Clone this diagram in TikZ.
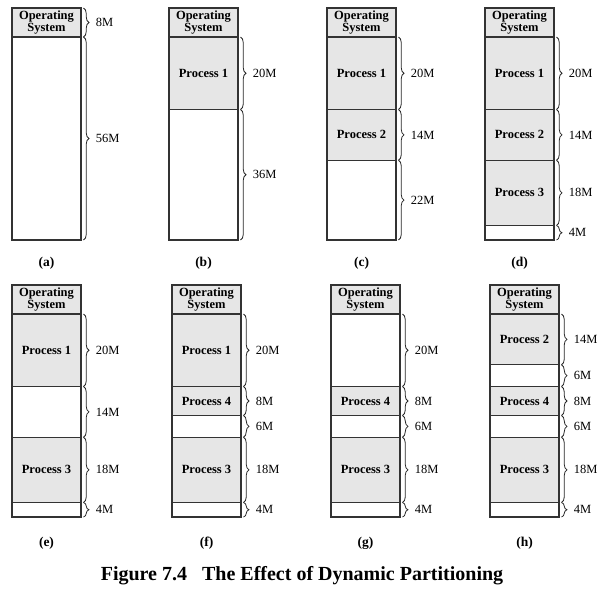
\documentclass[tikz,border=0pt]{standalone}
\usepackage{fontspec}
\setmainfont{Liberation Serif}
\usetikzlibrary{decorations.pathreplacing}
\definecolor{procgray}{HTML}{E6E6E6}
\definecolor{edgegray}{HTML}{333333}
\tikzset{
  blkbase/.style={draw=edgegray, line width=1.2pt, minimum width=69pt, inner sep=0pt, outer sep=0pt, anchor=north west,
    font=\bfseries\fontsize{12.5}{11.5}\selectfont, align=center},
  osbox/.style={blkbase, fill=procgray},
  procbox/.style={blkbase, fill=procgray},
  freebox/.style={blkbase, fill=white},
  brc/.style={decorate, decoration={brace, amplitude=5.5pt}, line width=0.8pt, draw=black!85},
  sizelbl/.style={font=\fontsize{12.5}{13}\selectfont, anchor=west, inner sep=0pt},
  sublbl/.style={font=\bfseries\fontsize{13.5}{14}\selectfont},
  captionlbl/.style={font=\bfseries\fontsize{20}{22}\selectfont}
}
\newcommand\blk[7]{\node[#6, minimum height={#5*3.625pt}] (#1) at (#2,{#3+#4*3.625}) {#7};}
\newcommand\brlbl[2]{\draw[brc] ([xshift=2.5pt]#1.north east) -- ([xshift=2.5pt]#1.south east) node[sizelbl, midway, xshift=12pt] {#2};}
\begin{document}
\begin{tikzpicture}[x=1pt,y=-1pt]
\useasboundingbox (0,0) rectangle (607,605);
% (a)
\blk{aos}{12}{8}{0}{8}{osbox}{Operating\\System}
\blk{af}{12}{8}{8}{56}{freebox}{}
\brlbl{aos}{8M}\brlbl{af}{56M}
\node[sublbl] (la) at (46.5,263) {(a)};
% (b)
\blk{bos}{169}{8}{0}{8}{osbox}{Operating\\System}
\blk{bp1}{169}{8}{8}{20}{procbox}{Process 1}
\blk{bf}{169}{8}{28}{36}{freebox}{}
\brlbl{bp1}{20M}\brlbl{bf}{36M}
\node[sublbl] (lb) at (203.5,263) {(b)};
% (c)
\blk{cos}{327}{8}{0}{8}{osbox}{Operating\\System}
\blk{cp1}{327}{8}{8}{20}{procbox}{Process 1}
\blk{cp2}{327}{8}{28}{14}{procbox}{Process 2}
\blk{cf}{327}{8}{42}{22}{freebox}{}
\brlbl{cp1}{20M}\brlbl{cp2}{14M}\brlbl{cf}{22M}
\node[sublbl] (lc) at (361.5,263) {(c)};
% (d)
\blk{dos}{485}{8}{0}{8}{osbox}{Operating\\System}
\blk{dp1}{485}{8}{8}{20}{procbox}{Process 1}
\blk{dp2}{485}{8}{28}{14}{procbox}{Process 2}
\blk{dp3}{485}{8}{42}{18}{procbox}{Process 3}
\blk{df}{485}{8}{60}{4}{freebox}{}
\brlbl{dp1}{20M}\brlbl{dp2}{14M}\brlbl{dp3}{18M}\brlbl{df}{4M}
\node[sublbl] (ld) at (519.5,263) {(d)};
% (e)
\blk{eos}{12}{285}{0}{8}{osbox}{Operating\\System}
\blk{ep1}{12}{285}{8}{20}{procbox}{Process 1}
\blk{ef1}{12}{285}{28}{14}{freebox}{}
\blk{ep3}{12}{285}{42}{18}{procbox}{Process 3}
\blk{ef2}{12}{285}{60}{4}{freebox}{}
\brlbl{ep1}{20M}\brlbl{ef1}{14M}\brlbl{ep3}{18M}\brlbl{ef2}{4M}
\node[sublbl] (le) at (46.5,543) {(e)};
% (f)
\blk{fos}{172}{285}{0}{8}{osbox}{Operating\\System}
\blk{fp1}{172}{285}{8}{20}{procbox}{Process 1}
\blk{fp4}{172}{285}{28}{8}{procbox}{Process 4}
\blk{ff1}{172}{285}{36}{6}{freebox}{}
\blk{fp3}{172}{285}{42}{18}{procbox}{Process 3}
\blk{ff2}{172}{285}{60}{4}{freebox}{}
\brlbl{fp1}{20M}\brlbl{fp4}{8M}\brlbl{ff1}{6M}\brlbl{fp3}{18M}\brlbl{ff2}{4M}
\node[sublbl] (lf) at (206.5,543) {(f)};
% (g)
\blk{gos}{331}{285}{0}{8}{osbox}{Operating\\System}
\blk{gf0}{331}{285}{8}{20}{freebox}{}
\blk{gp4}{331}{285}{28}{8}{procbox}{Process 4}
\blk{gf1}{331}{285}{36}{6}{freebox}{}
\blk{gp3}{331}{285}{42}{18}{procbox}{Process 3}
\blk{gf2}{331}{285}{60}{4}{freebox}{}
\brlbl{gf0}{20M}\brlbl{gp4}{8M}\brlbl{gf1}{6M}\brlbl{gp3}{18M}\brlbl{gf2}{4M}
\node[sublbl] (lg) at (365.5,543) {(g)};
% (h)
\blk{hos}{490}{285}{0}{8}{osbox}{Operating\\System}
\blk{hp2}{490}{285}{8}{14}{procbox}{Process 2}
\blk{hf0}{490}{285}{22}{6}{freebox}{}
\blk{hp4}{490}{285}{28}{8}{procbox}{Process 4}
\blk{hf1}{490}{285}{36}{6}{freebox}{}
\blk{hp3}{490}{285}{42}{18}{procbox}{Process 3}
\blk{hf2}{490}{285}{60}{4}{freebox}{}
\brlbl{hp2}{14M}\brlbl{hf0}{6M}\brlbl{hp4}{8M}\brlbl{hf1}{6M}\brlbl{hp3}{18M}\brlbl{hf2}{4M}
\node[sublbl] (lh) at (524.5,543) {(h)};
% caption
\node[captionlbl] (cap) at (302,576) {Figure 7.4\hspace{0.5em} The Effect of Dynamic Partitioning};
\end{tikzpicture}
\end{document}
